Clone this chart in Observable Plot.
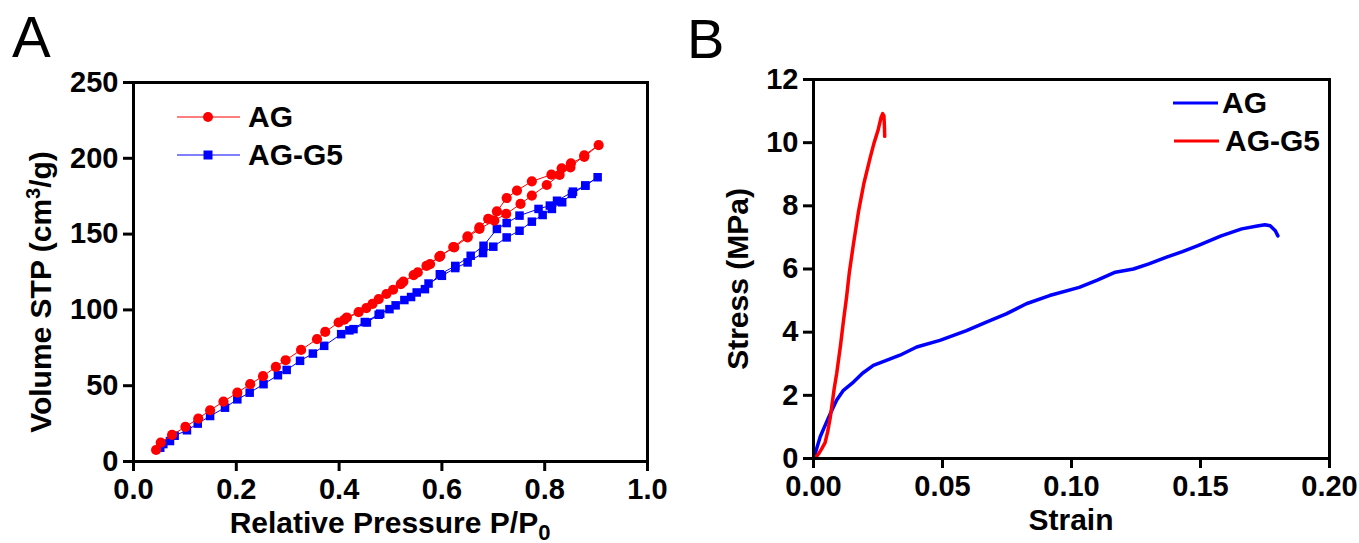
<!DOCTYPE html>
<html><head><meta charset="utf-8">
<script src="https://cdn.jsdelivr.net/npm/d3@7"></script>
<script src="https://cdn.jsdelivr.net/npm/@observablehq/plot@0.6"></script>
<style>
body{margin:0;background:#fff;}
#wrap{position:relative;width:1359px;height:543px;background:#fff;}
#wrap svg{position:absolute;top:0;}
</style></head><body><div id="wrap"></div>
<script>
// ---------- Panel A: N2 isotherms ----------
const agAdsX = [0.044,0.053,0.075,0.101,0.126,0.149,0.175,0.202,0.227,0.252,0.277,0.296,0.326,0.357,0.373,0.399,0.415,0.453,0.477,0.505,0.525,0.553,0.577,0.597,0.624,0.650,0.673,0.702,0.725,0.753,0.775,0.804,0.829,0.850,0.877,0.905];
const agAdsY = [7.6,12.4,17.5,22.8,28.3,33.8,39.5,45.4,51.0,56.3,62.4,66.8,73.6,80.7,85.5,91.7,95.0,101.2,107.1,113.3,118.6,124.7,130.2,135.7,141.2,147.8,153.4,158.9,163.3,169.9,175.4,182.4,189.0,194.0,202.0,208.7];
const agDesX = [0.877,0.851,0.833,0.813,0.775,0.746,0.726,0.707,0.690,0.673,0.650,0.622,0.595,0.570,0.545,0.520,0.492,0.465,0.438,0.410];
const agDesY = [201.0,196.7,193.4,189.2,184.8,178.7,173.8,165.0,160.0,154.5,148.5,141.5,135.0,129.0,123.0,117.0,110.5,104.0,98.5,93.5];
const g5AdsX = [0.052,0.058,0.071,0.080,0.104,0.125,0.149,0.178,0.202,0.226,0.253,0.281,0.298,0.324,0.349,0.371,0.404,0.428,0.454,0.477,0.498,0.527,0.551,0.574,0.600,0.626,0.650,0.680,0.700,0.726,0.751,0.775,0.796,0.814,0.834,0.853,0.879,0.903];
const g5AdsY = [9.1,11.5,13.5,17.0,20.6,25.0,30.0,35.5,41.0,45.4,51.0,56.9,60.4,66.4,71.2,76.3,84.0,87.3,91.7,96.8,100.5,106.5,111.5,117.4,122.5,127.6,131.3,137.5,141.7,147.8,152.2,158.2,162.6,166.6,171.0,176.5,182.0,187.5];
const g5DesX = [0.879,0.855,0.824,0.810,0.788,0.751,0.726,0.707,0.681,0.656,0.626,0.596,0.567,0.540,0.510,0.480,0.450,0.420];
const g5DesY = [182.0,178.0,172.0,168.8,166.6,162.2,157.3,153.4,142.3,135.7,129.0,123.5,113.7,108.5,103.0,97.5,92.0,86.5];
const xTicksA = [0,0.2,0.4,0.6,0.8,1.0];
const yTicksA = [0,50,100,150,200,250];

// ---------- Panel B: stress-strain ----------
const agStrain = [0,0.001,0.0026,0.0045,0.0065,0.009,0.0116,0.0155,0.019,0.0232,0.028,0.0335,0.040,0.049,0.0593,0.067,0.0747,0.0825,0.0915,0.103,0.110,0.117,0.124,0.130,0.1366,0.143,0.149,0.158,0.166,0.172,0.175,0.177,0.179,0.180];
const agStress = [0,0.25,0.69,1.05,1.42,1.85,2.16,2.42,2.70,2.95,3.10,3.27,3.53,3.74,4.05,4.32,4.58,4.90,5.16,5.42,5.65,5.90,6.00,6.16,6.37,6.55,6.74,7.05,7.27,7.36,7.40,7.37,7.21,7.05];
const g5Strain = [0,0.001,0.002,0.003,0.0045,0.0055,0.0065,0.008,0.009,0.0105,0.0116,0.0128,0.0139,0.0155,0.0174,0.0195,0.0219,0.0235,0.0251,0.0262,0.0268,0.0273,0.0275,0.0276];
const g5Stress = [0,0.05,0.15,0.28,0.5,0.85,1.3,2.2,2.7,3.6,4.35,5.1,5.9,6.8,7.8,8.7,9.5,10.0,10.42,10.8,10.92,10.85,10.5,10.2];
const xTicksB = [0,0.05,0.10,0.15,0.20];
const yTicksB = [0,2,4,6,8,10,12];

const RED = "#ff0000", BLUE = "#0000ff";
const FONT = "'Liberation Sans', Arial, sans-serif";
const zip = (xs, ys) => xs.map((x, i) => ({x, y: ys[i]}));
const agA = zip(agAdsX, agAdsY).concat(zip(agDesX, agDesY));
const g5A = zip(g5AdsX, g5AdsY).concat(zip(g5DesX, g5DesY));
const agB = zip(agStrain, agStress);
const g5B = zip(g5Strain, g5Stress);

const baseStyle = {fontSize: "29px", fontWeight: "bold", fontFamily: FONT, color: "black", background: "white", overflow: "visible"};

const plotA = Plot.plot({
  width: 680, height: 543,
  marginLeft: 133, marginRight: 33, marginTop: 82, marginBottom: 82,
  style: baseStyle,
  x: {domain: [0, 1]},
  y: {domain: [0, 250]},
  marks: [
    Plot.line(g5A, {x: "x", y: "y", stroke: BLUE, strokeWidth: 1}),
    Plot.dot(g5A, {x: "x", y: "y", symbol: "square", r: 4.8, fill: BLUE, stroke: "none"}),
    Plot.line(agA, {x: "x", y: "y", stroke: RED, strokeWidth: 1}),
    Plot.dot(agA, {x: "x", y: "y", symbol: "circle", r: 5.1, fill: RED, stroke: "none"}),
    Plot.frame({stroke: "black", strokeWidth: 3}),
    Plot.axisX({ticks: xTicksA, tickFormat: d3.format(".1f"), tickSize: 10, tickPadding: 7, strokeWidth: 3, label: null}),
    Plot.axisY({ticks: yTicksA, tickSize: 10, tickPadding: 5, strokeWidth: 3, label: null})
  ]
});

const plotB = Plot.plot({
  width: 679, height: 543,
  marginLeft: 133, marginRight: 30, marginTop: 79, marginBottom: 85,
  style: baseStyle,
  x: {domain: [0, 0.2]},
  y: {domain: [0, 12]},
  marks: [
    Plot.line(agB, {x: "x", y: "y", stroke: BLUE, strokeWidth: 3.5}),
    Plot.line(g5B, {x: "x", y: "y", stroke: RED, strokeWidth: 3.5}),
    Plot.frame({stroke: "black", strokeWidth: 3}),
    Plot.axisX({ticks: xTicksB, tickFormat: d3.format(".2f"), tickSize: 10, tickPadding: 7, strokeWidth: 3, label: null}),
    Plot.axisY({ticks: yTicksB, tickSize: 10, tickPadding: 5, strokeWidth: 3, label: null})
  ]
});

const wrap = document.getElementById("wrap");
plotA.style.left = "0px";
plotB.style.left = "680px";
wrap.appendChild(plotA);
wrap.appendChild(plotB);

function title(svg, x, y, rotate, parts, size) {
  const t = d3.select(svg).append("text")
    .attr("transform", `translate(${x},${y})` + (rotate ? " rotate(-90)" : ""))
    .attr("text-anchor", "middle")
    .attr("fill", "black")
    .style("font-family", FONT).style("font-weight", "bold").style("font-size", size + "px");
  parts.forEach(([s, dy, fs]) => {
    const sp = t.append("tspan").text(s);
    if (dy) sp.attr("dy", dy);
    if (fs) sp.style("font-size", fs + "px");
  });
}
function plain(svg, x, y, s, size, weight) {
  d3.select(svg).append("text").attr("x", x).attr("y", y).attr("fill", "black")
    .attr("text-anchor", "start")
    .style("font-family", FONT).style("font-weight", weight).style("font-size", size + "px").text(s);
}

// Panel A titles
title(plotA, 390, 533, false, [["Relative Pressure P/P"], ["0", 7, 22]], 30);
title(plotA, 51, 292, true, [["Volume STP (cm"], ["3", -11, 20], ["/g)", 11]], 30);
plain(plotA, 12, 57, "A", 58, "normal");
// Panel A legend
{
  const g = d3.select(plotA).append("g");
  g.append("line").attr("x1", 177).attr("x2", 240).attr("y1", 117).attr("y2", 117).attr("stroke", RED).attr("stroke-width", 1);
  g.append("circle").attr("cx", 208).attr("cy", 117).attr("r", 5).attr("fill", RED);
  g.append("line").attr("x1", 177).attr("x2", 240).attr("y1", 155).attr("y2", 155).attr("stroke", BLUE).attr("stroke-width", 1);
  g.append("rect").attr("x", 203.5).attr("y", 150.5).attr("width", 9).attr("height", 9).attr("fill", BLUE);
  plain(plotA, 248, 127, "AG", 30, "bold");
  plain(plotA, 248, 165, "AG-G5", 30, "bold");
}

// Panel B titles
title(plotB, 391, 530, false, [["Strain"]], 30);
title(plotB, 68, 279, true, [["Stress (MPa)"]], 30);
plain(plotB, 7, 58, "B", 56, "normal");
{
  const g = d3.select(plotB).append("g");
  g.append("line").attr("x1", 493).attr("x2", 538).attr("y1", 103).attr("y2", 103).attr("stroke", BLUE).attr("stroke-width", 3);
  g.append("line").attr("x1", 494).attr("x2", 539).attr("y1", 141).attr("y2", 141).attr("stroke", RED).attr("stroke-width", 3);
  plain(plotB, 542, 113, "AG", 30, "bold");
  plain(plotB, 545, 151, "AG-G5", 30, "bold");
}
</script>
</body></html>
